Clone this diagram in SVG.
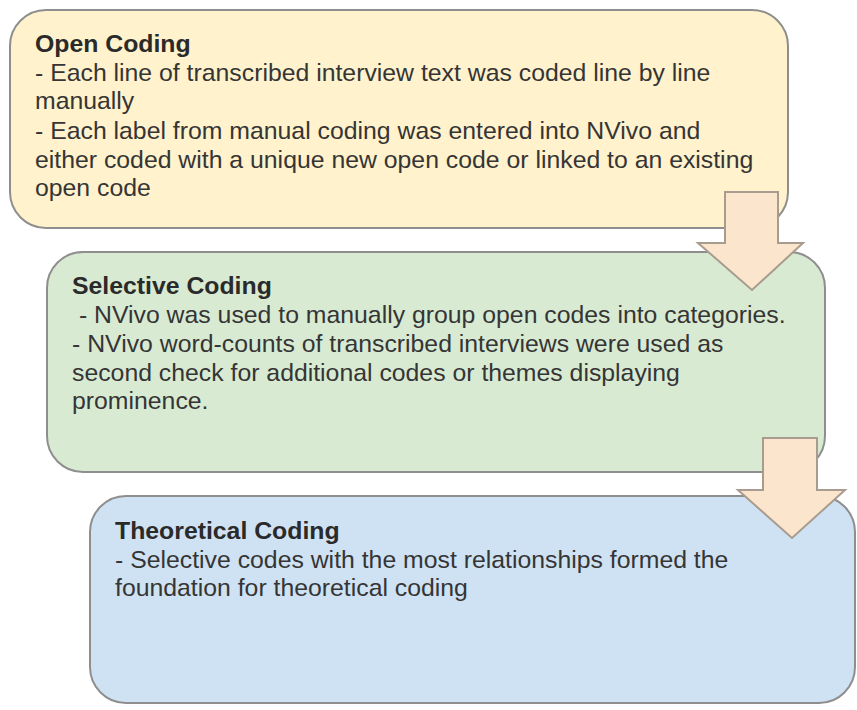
<svg xmlns="http://www.w3.org/2000/svg" width="857" height="710" viewBox="0 0 857 710">
<style>
.box{stroke:#8e8e8e;stroke-width:2}
.t{font-family:"Liberation Sans",Arial,sans-serif;font-size:24.8px;fill:#353535}
.h{font-weight:bold;fill:#2a2a2a}
.arrow{fill:#fce5cd;stroke:#a89c8e;stroke-width:2;stroke-linejoin:miter}
</style>
<rect width="857" height="710" fill="#ffffff"/>
<g id="open-coding">
<rect class="box" x="10" y="10" width="778" height="218" rx="36" fill="#fff2cc"/>
<text class="t h" x="35" y="52">Open Coding</text>
<text class="t" x="35" y="81">- Each line of transcribed interview text was coded line by line</text>
<text class="t" x="35" y="109">manually</text>
<text class="t" x="35" y="139">- Each label from manual coding was entered into NVivo and</text>
<text class="t" x="35" y="168">either coded with a unique new open code or linked to an existing</text>
<text class="t" x="35" y="196">open code</text>
</g>
<g id="selective-coding">
<rect class="box" x="47" y="252" width="778" height="220" rx="36" fill="#d9ead3"/>
<text class="t h" x="72" y="294">Selective Coding</text>
<text class="t" x="72" y="323" xml:space="preserve"> - NVivo was used to manually group open codes into categories.</text>
<text class="t" x="72" y="352">- NVivo word-counts of transcribed interviews were used as</text>
<text class="t" x="72" y="381">second check for additional codes or themes displaying</text>
<text class="t" x="72" y="409">prominence.</text>
</g>
<g id="theoretical-coding">
<rect class="box" x="90" y="496" width="765" height="207" rx="36" fill="#cfe2f3"/>
<text class="t h" x="115" y="539">Theoretical Coding</text>
<text class="t" x="115" y="568">- Selective codes with the most relationships formed the</text>
<text class="t" x="115" y="596">foundation for theoretical coding</text>
</g>
<g id="connectors">
<polygon class="arrow" points="725,192 778,192 778,243 803,243 752,290 698,243 725,243"/>
<polygon class="arrow" points="763,438 817,438 817,490 845,490 792,538 738,490 763,490"/>
</g>
</svg>
